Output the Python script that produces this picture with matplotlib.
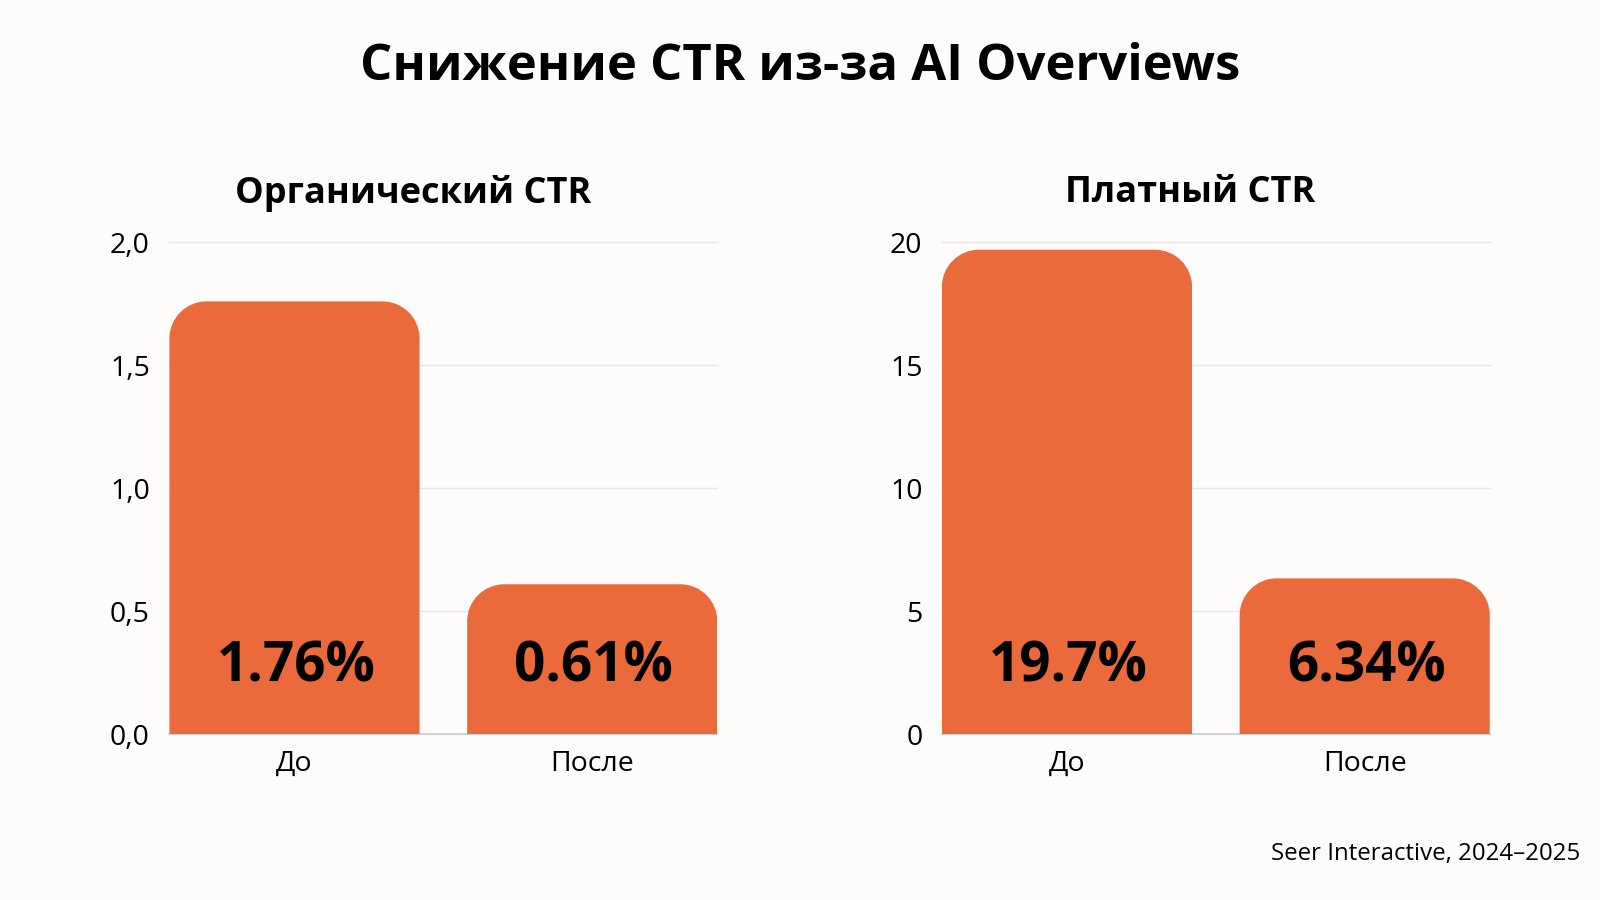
import matplotlib
matplotlib.use("Agg")
import matplotlib.pyplot as plt
from matplotlib.path import Path
from matplotlib.patches import PathPatch

plt.rcParams['font.family'] = ['Open Sans', 'DejaVu Sans']

# data
categories = ["До", "После"]
organic_ctr = [1.76, 0.61]
paid_ctr = [19.7, 6.34]
organic_labels = ["1.76%", "0.61%"]
paid_labels = ["19.7%", "6.34%"]
organic_ticks = [0, 0.5, 1.0, 1.5, 2.0]
organic_tick_labels = ["0,0", "0,5", "1,0", "1,5", "2,0"]
paid_ticks = [0, 5, 10, 15, 20]
paid_tick_labels = ["0", "5", "10", "15", "20"]

BAR_COLOR = "#EB6A3B"
BG = "#FDFCFA"
W, H, DPI = 16, 9, 100

fig = plt.figure(figsize=(W, H), dpi=DPI, facecolor=BG)


def rounded_bar(ax, x, h, width, r_px):
    # bar with rounded top corners, radius given in pixels
    pos = ax.get_position()
    x0l, x1l = ax.get_xlim()
    y0l, y1l = ax.get_ylim()
    px_x = pos.width * W * DPI / (x1l - x0l)
    px_y = pos.height * H * DPI / (y1l - y0l)
    rx = r_px / px_x
    ry = min(r_px / px_y, h)
    k = 0.5523
    a, b = x - width / 2, x + width / 2
    verts = [
        (a, 0), (a, h - ry),
        (a, h - ry + k * ry), (a + rx - k * rx, h), (a + rx, h),
        (b - rx, h),
        (b - rx + k * rx, h), (b, h - ry + k * ry), (b, h - ry),
        (b, 0), (a, 0),
    ]
    codes = [Path.MOVETO, Path.LINETO,
             Path.CURVE4, Path.CURVE4, Path.CURVE4,
             Path.LINETO,
             Path.CURVE4, Path.CURVE4, Path.CURVE4,
             Path.LINETO, Path.CLOSEPOLY]
    ax.add_patch(PathPatch(Path(verts, codes), facecolor=BAR_COLOR,
                           edgecolor="none", zorder=3))


def panel(rect, values, labels, ticks, tick_labels):
    ax = fig.add_axes(rect)
    ax.set_facecolor(BG)
    ax.set_xlim(-0.42, 1.42)
    ax.set_ylim(ticks[0], ticks[-1])
    for s in ["top", "right", "left"]:
        ax.spines[s].set_visible(False)
    ax.spines["bottom"].set_color("#cccccc")
    ax.spines["bottom"].set_linewidth(1.2)
    ax.set_yticks(ticks)
    ax.set_yticklabels(tick_labels)
    ax.set_xticks(range(len(categories)))
    ax.set_xticklabels(categories)
    ax.tick_params(axis="y", length=0, pad=14, labelsize=20.5)
    ax.tick_params(axis="x", length=0, pad=11, labelsize=20.5)
    ax.yaxis.grid(True, color="#e6e6e6", linewidth=1.0, zorder=0)
    for gl in ax.get_ygridlines():
        gl.set_clip_on(False)
    ax.set_axisbelow(True)
    for i, v in enumerate(values):
        rounded_bar(ax, i, v, 0.84, 37)
        ax.text(i + 0.005, 0.137 * ticks[-1], labels[i], ha="center", va="center",
                fontsize=39.5, fontweight="bold", color="black", zorder=4)
    return ax


panel([0.1059, 0.1841, 0.3424, 0.5466], organic_ctr, organic_labels,
      organic_ticks, organic_tick_labels)
panel([0.5887, 0.1841, 0.3424, 0.5466], paid_ctr, paid_labels,
      paid_ticks, paid_tick_labels)

fig.text(0.258, 0.785, "Органический CTR", ha="center", va="center",
         fontsize=26, fontweight="bold")
fig.text(0.7437, 0.785, "Платный CTR", ha="center", va="center",
         fontsize=26, fontweight="bold")
fig.text(0.5, 0.926, "Снижение CTR из-за AI Overviews", ha="center", va="center",
         fontsize=36.5, fontweight="bold")
fig.text(0.9875, 0.051, "Seer Interactive, 2024–2025", ha="right", va="center",
         fontsize=17.3)

fig.savefig("out.png", dpi=DPI, facecolor=BG)
